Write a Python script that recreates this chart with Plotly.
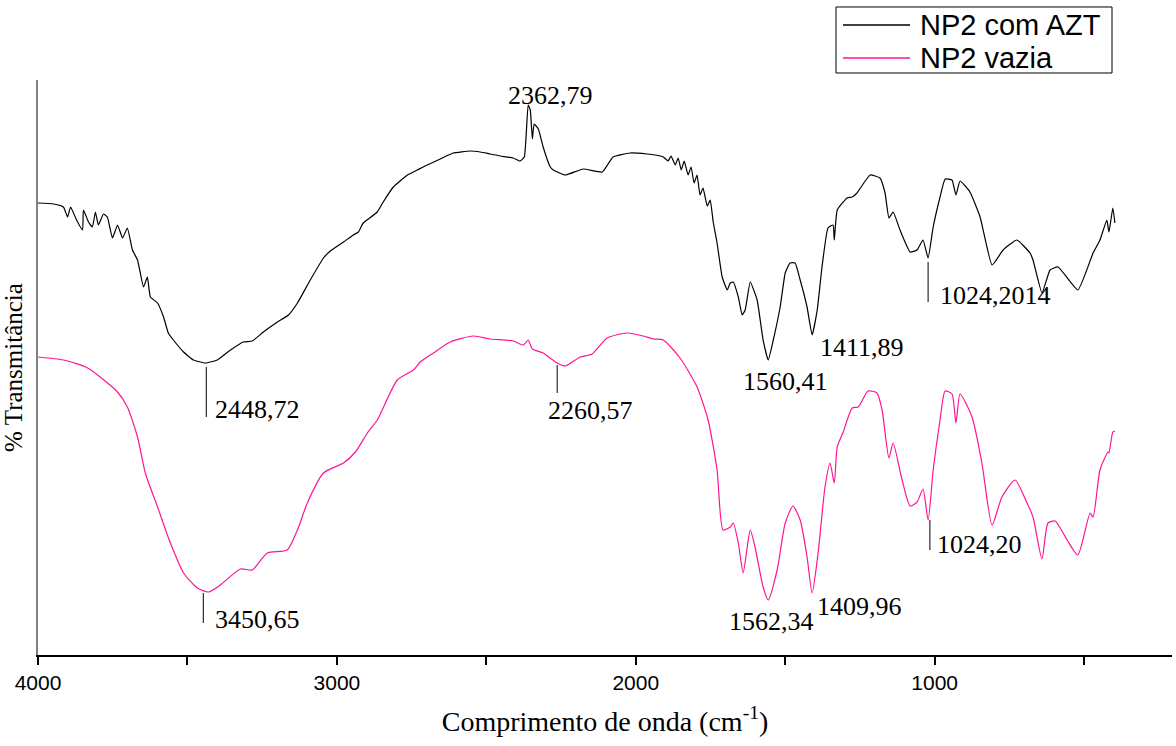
import plotly.graph_objects as go

# ---------------- data ----------------
# wavenumber (cm-1) and transmittance (arbitrary units, no y scale on the chart)
azt_wn = [4000, 3948, 3915, 3901, 3891, 3871, 3851, 3848, 3831, 3818, 3808, 3798, 3781, 3768,
          3751, 3734, 3717, 3701, 3684, 3667, 3647, 3634, 3624, 3600, 3580, 3564, 3547, 3513,
          3480, 3440, 3400, 3356, 3313, 3283, 3246, 3199, 3162, 3132, 3089, 3045, 3022, 2978,
          2945, 2928, 2912, 2865, 2845, 2811, 2764, 2731, 2698, 2654, 2611, 2554, 2520, 2487,
          2453, 2410, 2387, 2373, 2360, 2353, 2346, 2340, 2326, 2310, 2286, 2276, 2236, 2176,
          2112, 2076, 2019, 1962, 1935, 1908, 1892, 1882, 1868, 1858, 1848, 1838, 1825, 1815,
          1805, 1795, 1785, 1775, 1761, 1751, 1741, 1728, 1711, 1694, 1684, 1674, 1657, 1644,
          1634, 1617, 1594, 1574, 1557, 1540, 1517, 1500, 1484, 1467, 1450, 1427, 1410, 1393,
          1377, 1357, 1340, 1336, 1326, 1293, 1276, 1260, 1216, 1183, 1166, 1153, 1139, 1116,
          1082, 1059, 1039, 1022, 1005, 982, 965, 942, 929, 915, 882, 848, 808, 771, 725, 681,
          671, 641, 614, 587, 521, 470, 447, 424, 417, 404, 397]
azt_t = [452, 451, 448, 438, 448, 435, 425, 445, 433, 428, 443, 430, 441, 438,
         417, 430, 417, 427, 405, 395, 368, 378, 358, 352, 338, 322, 315, 303,
         295, 292, 295, 305, 313, 314, 323, 333, 340, 352, 375, 397, 404, 413,
         420, 423, 432, 443, 453, 468, 480, 485, 490, 496, 502, 504, 503, 501,
         499, 497, 494, 498, 550, 545, 516, 531, 526, 508, 488, 485, 480, 486,
         483, 498, 502, 501, 500, 498, 494, 499, 490, 497, 485, 494, 480, 488,
         472, 480, 460, 467, 449, 455, 433, 412, 378, 365, 372, 373, 358, 340,
         345, 373, 355, 315, 295, 315, 348, 382, 392, 392, 375, 348, 320, 345,
         388, 427, 430, 415, 445, 457, 458, 462, 480, 477, 462, 437, 443, 425,
         403, 405, 415, 397, 428, 458, 476, 475, 460, 474, 463, 438, 390, 405, 415, 402,
         395, 362, 385, 388, 365, 402, 415, 435, 423, 447, 432]

vazia_wn = [4000, 3915, 3834, 3734, 3701, 3667, 3641, 3600, 3557, 3513, 3467, 3430, 3390, 3323,
            3283, 3233, 3166, 3132, 3099, 3045, 2978, 2938, 2898, 2865, 2798, 2744, 2721, 2677,
            2621, 2544, 2487, 2410, 2376, 2360, 2346, 2310, 2263, 2236, 2186, 2146, 2096, 2029,
            1975, 1942, 1908, 1852, 1795, 1758, 1728, 1708, 1684, 1674, 1657, 1641, 1627, 1617,
            1601, 1574, 1557, 1527, 1500, 1474, 1450, 1427, 1410, 1390, 1367, 1350, 1336, 1326,
            1306, 1276, 1256, 1223, 1193, 1176, 1153, 1139, 1109, 1082, 1059, 1039, 1022, 1005,
            982, 965, 942, 929, 915, 875, 842, 808, 775, 731, 691, 671, 641, 621, 597, 557, 521,
            480, 470, 447, 420, 417, 404, 397]
vazia_t = [298, 295, 287, 263, 248, 218, 182, 148, 112, 82, 67, 63, 70, 86,
           85, 102, 105, 125, 152, 182, 192, 203, 222, 235, 275, 285, 293, 302,
           313, 319, 316, 314, 310, 315, 306, 302, 292, 289, 298, 301, 317, 322,
           319, 316, 315, 297, 268, 235, 185, 125, 128, 132, 112, 82, 108, 125,
           108, 68, 55, 85, 132, 149, 135, 98, 62, 102, 168, 192, 172, 208,
           223, 247, 248, 264, 262, 245, 197, 212, 175, 149, 153, 166, 135, 185,
           235, 264, 261, 232, 261, 238, 192, 130, 158, 175, 152, 138, 96, 132, 134, 115, 100,
           142, 138, 185, 203, 202, 223, 224]

series_names = ["NP2 com AZT", "NP2 vazia"]
series_colors = ["#000000", "#ff1493"]

x_tickvals = [4000, 3000, 2000, 1000]
x_minor_tickvals = [3500, 2500, 1500, 500]

# peak labels: text, wavenumber of the label's left edge, transmittance of label centre
peak_labels = ["2362,79", "2448,72", "1560,41", "1411,89", "1024,2014",
               "3450,65", "2260,57", "1562,34", "1409,96", "1024,20"]
peak_label_wn = [2433, 3413, 1647, 1390, 989, 3413, 2300, 1694, 1400, 999]
peak_label_t = [560, 246, 274, 308, 360, 36, 245, 34, 49, 111]

# marker ticks under peaks: wavenumber, top and bottom transmittance
mark_wn = [3437, 3447, 2263, 1022, 1016]
mark_top = [288, 62, 290, 393, 135]
mark_bottom = [238, 32, 262, 353, 105]

# ---------------- figure ----------------
fig = go.Figure()
fig.add_trace(go.Scatter(x=azt_wn, y=azt_t, mode="lines", name=series_names[0],
                         showlegend=False,
                         line=dict(color=series_colors[0], width=1.2,
                                   shape="spline", smoothing=0.4)))
fig.add_trace(go.Scatter(x=vazia_wn, y=vazia_t, mode="lines", name=series_names[1],
                         showlegend=False,
                         line=dict(color=series_colors[1], width=1.2,
                                   shape="spline", smoothing=0.6)))

for wn, t0, t1 in zip(mark_wn, mark_top, mark_bottom):
    fig.add_shape(type="line", xref="x", yref="y", x0=wn, x1=wn, y0=t0, y1=t1,
                  line=dict(color="black", width=1))

for txt, wn, t in zip(peak_labels, peak_label_wn, peak_label_t):
    fig.add_annotation(x=wn, y=t, xref="x", yref="y", text=txt, showarrow=False,
                       xanchor="left", yanchor="middle",
                       font=dict(family="Liberation Serif", size=26, color="black"))

# legend box drawn in paper coordinates (line samples longer than plotly's built-in)
fig.add_shape(type="rect", xref="paper", yref="paper", x0=0.7037, x1=0.9471,
              y0=1.0122, y1=1.1270, line=dict(color="black", width=1),
              fillcolor="white", layer="above")
legend_y = [1.0957, 1.0383]
for name, color, ly in zip(series_names, series_colors, legend_y):
    fig.add_shape(type="line", xref="paper", yref="paper", x0=0.7099, x1=0.7690,
                  y0=ly, y1=ly, line=dict(color=color, width=1.5))
    fig.add_annotation(x=0.7760, y=ly, xref="paper", yref="paper", text=name,
                       showarrow=False, xanchor="left", yanchor="middle",
                       font=dict(family="Liberation Sans", size=29, color="black"))

fig.update_layout(
    width=1176, height=746,
    margin=dict(l=38, r=4, t=80, b=91),
    paper_bgcolor="white", plot_bgcolor="white",
    showlegend=False,
    xaxis=dict(range=[4000, 206], showgrid=False, zeroline=False,
               showline=True, linecolor="black", linewidth=1.5,
               ticks="outside", ticklen=8, tickwidth=1.5, tickcolor="black",
               tickvals=x_tickvals,
               minor=dict(tickvals=x_minor_tickvals, ticks="outside", ticklen=8,
                          tickwidth=1.5, tickcolor="black", showgrid=False),
               tickfont=dict(family="Liberation Sans", size=21, color="black"),
               title=dict(text="Comprimento de onda (cm<sup>-1</sup>)",
                          font=dict(family="Liberation Serif", size=28, color="black"),
                          standoff=18)),
    yaxis=dict(range=[0, 575], showgrid=False, zeroline=False,
               showline=True, linecolor="#808080", linewidth=1.5,
               ticks="", showticklabels=False,
               title=dict(text="% Transmitância",
                          font=dict(family="Liberation Serif", size=25, color="black"),
                          standoff=7)),
)

fig.write_html("out.html")
